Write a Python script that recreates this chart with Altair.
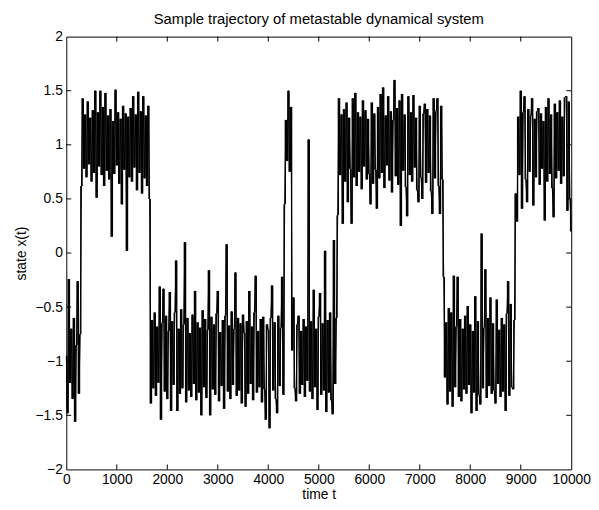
import altair as alt
import pandas as pd

# ---- data (time grid of 25 steps per sample) ----
step = 25
seg_starts = [0, 300, 1675, 4325, 4475, 5375, 7475, 8900]

segA = [-0.95, -1.48, -0.24, -1.20, -0.70, -1.35, -0.60, -1.56, -0.85, -0.26, -1.30, -0.75]

segB = [0.62, 1.43, 0.78, 1.28, 0.70, 1.40, 0.82, 1.25, 0.66, 1.32,
        0.74, 1.50, 0.51, 1.30, 0.80, 1.50, 0.72, 1.35, 0.62, 1.48,
        0.76, 1.27, 0.68, 1.33, 0.15, 1.22, 0.73, 1.51, 0.81, 1.30,
        0.64, 1.24, 0.45, 1.36, 0.77, 1.29, 0.02, 1.26, 0.70, 1.34,
        0.66, 1.45, 0.79, 1.28, 0.58, 1.49, 0.74, 1.31, 0.55, 1.45,
        0.69, 1.27, 0.62, 1.36, 0.50]

segC = [-1.39, -0.62, -1.25, -0.55, -1.32, -0.68, -1.20, -0.31, -1.54, -0.65,
        -0.33, -1.28, -0.58, -1.35, -0.72, -0.36, -1.46, -0.63, -1.22, -0.55,
        -0.07, -1.46, -0.70, -1.30, -0.52, -1.25, -0.66, 0.10, -1.38, -0.60,
        -1.27, -0.74, -1.33, -0.57, -1.21, -0.35, -1.36, -0.64, -1.29, -0.69,
        -1.50, -0.53, -1.24, -0.61, -1.34, -0.71, -0.16, -1.50, -0.59, -1.26,
        -0.66, -1.31, -0.56, -0.35, -1.37, -0.73, -1.23, -0.62, -1.44, -0.58,
        0.08, -1.28, -0.67, -1.35, -0.54, -1.22, -0.70, -0.18, -1.32, -0.60,
        -1.27, -0.65, -1.39, -0.57, -0.74, -1.42, -0.63, -1.30, -0.35, -1.21,
        -0.68, -1.36, -0.55, -0.21, -1.29, -0.72, -1.24, -0.61, -1.38, -0.59,
        -1.26, -1.54, -0.66, -0.71, -1.62, -0.60, -0.30, -1.27, -0.64, -1.35,
        -1.48, -0.58, -1.23, -0.69, -0.22, -1.31]

segD = [0.45, 1.23, 0.85, 1.50, 0.75, 1.35]

segE = [-0.90, -0.41, -1.25, -1.37, -0.66, -0.58, -1.30, -0.72, -1.22, -0.61,
        -1.33, -0.68, -1.18, 1.05, -1.28, -0.63, -1.35, -0.34, -1.24, -0.70,
        -1.45, -0.59, -0.37, -1.31, -0.65, -1.27, 0.02, -1.47, -0.62, -1.29,
        -0.55, -1.36, -1.49, 0.12, -1.21, -0.60]

segF = [0.35, 1.43, 0.72, 1.28, 0.27, 1.33, 0.66, 1.39, 0.47, 1.25,
        0.78, 0.27, 1.43, 0.70, 1.48, 0.62, 1.30, 0.75, 1.26, 0.59,
        1.41, 0.80, 1.32, 0.68, 1.24, 0.73, 0.45, 1.39, 0.64, 1.29,
        0.77, 0.41, 1.35, 0.69, 1.47, 0.74, 1.53, 0.60, 1.27, 0.81,
        1.45, 0.67, 1.31, 0.56, 1.23, 1.60, 0.71, 1.34, 0.63, 1.41,
        0.25, 1.47, 0.76, 1.28, 0.61, 0.34, 1.45, 0.72, 1.30, 0.66,
        1.46, 0.79, 1.25, 0.58, 0.47, 1.36, 0.70, 0.50, 1.29, 1.38,
        0.65, 1.33, 0.74, 1.27, 0.57, 0.36, 1.43, 0.69, 1.31, 1.43,
        0.62, 0.36, 1.36, 0.68]

segG = [-0.22, -1.15, -0.64, -1.40, -0.51, -1.28, -0.55, -1.42, -0.21, -1.24,
        -0.68, -0.22, -1.33, -0.61, -1.37, -0.70, -1.26, -0.58, -1.30, -0.49,
        -1.22, -0.66, -1.48, -0.72, -1.29, -0.40, -1.46, -0.63, -1.31, -1.40,
        0.18, -1.25, -0.69, -0.15, -1.34, -0.60, -1.23, -0.41, -1.30, -0.65,
        -1.27, -1.39, -0.43, -1.21, -0.71, -1.33, -0.60, -1.28, -0.66, -1.46,
        -0.56, -0.26, -1.32, -0.47, -1.24, -1.26, -0.62]

segH = [0.55, 0.29, 1.26, 0.72, 1.50, 0.41, 1.30, 1.45, 0.68, 0.47,
        1.33, 0.75, 1.27, 1.43, 0.44, 1.24, 0.70, 1.31, 1.34, 0.63,
        1.29, 0.78, 1.22, 0.30, 1.35, 0.66, 1.43, 0.73, 1.28, 0.60,
        0.33, 1.38, 0.69, 1.30, 0.76, 1.41, 0.64, 1.26, 0.71, 1.44,
        1.45, 0.39, 1.40, 0.50, 0.20]

x_tick_values = [0, 1000, 2000, 3000, 4000, 5000, 6000, 7000, 8000, 9000, 10000]
y_tick_values = [-2, -1.5, -1, -0.5, 0, 0.5, 1, 1.5, 2]
inner_x_ticks = [1000, 2000, 3000, 4000, 5000, 6000, 7000, 8000, 9000]
inner_y_ticks = [-1.5, -1, -0.5, 0, 0.5, 1, 1.5]

segments = [segA, segB, segC, segD, segE, segF, segG, segH]
rows = []
for start, vals in zip(seg_starts, segments):
    for k, v in enumerate(vals):
        rows.append({"t": start + step * k, "x": v})
df = pd.DataFrame(rows).sort_values("t").reset_index(drop=True)

# per-interval table: each sample interval is drawn as a filled column
# spanning the two sample values (what a dense line looks like on screen)
iv = pd.DataFrame({
    "t": (df["t"] + step / 2).iloc[:-1],
    "x": df["x"].iloc[:-1],
    "x_next": df["x"].shift(-1).iloc[:-1],
})

W, H = 511, 438
FONT = "Liberation Sans"
TICK = 5

xscale = alt.Scale(domain=[0, 10000], nice=False, zero=False)
yscale = alt.Scale(domain=[-2, 2], nice=False, zero=False)

x_axis = alt.Axis(values=x_tick_values, format="d", title="time t",
                  ticks=False, domain=False, grid=False,
                  labelPadding=3, labelFontSize=14, labelFont=FONT,
                  labelColor="black", labelFlush=False, labelOverlap=False,
                  titleFontSize=14, titleFont=FONT, titleFontWeight="normal",
                  titleColor="black", titleBaseline="alphabetic",
                  titleY=29.5, titleX=W / 2)
y_axis = alt.Axis(values=y_tick_values, format="~g", title="state x(t)",
                  ticks=False, domain=False, grid=False,
                  labelPadding=4, labelFontSize=14, labelFont=FONT,
                  labelColor="black", labelFlush=False, labelOverlap=False,
                  titleFontSize=14, titleFont=FONT, titleFontWeight="normal",
                  titleColor="black", titleAngle=270, titleAlign="center",
                  titleBaseline="middle", titleX=-45, titleY=H / 2)

line = alt.Chart(df).mark_line(color="black", strokeWidth=1).encode(
    x=alt.X("t:Q", scale=xscale, axis=x_axis),
    y=alt.Y("x:Q", scale=yscale, axis=y_axis),
)

columns = alt.Chart(iv).mark_rule(color="black", strokeWidth=1.35, strokeCap="butt").encode(
    x=alt.X("t:Q", scale=xscale, axis=x_axis),
    y=alt.Y("x:Q", scale=yscale, axis=y_axis),
    y2="x_next:Q",
)

xt_df = pd.DataFrame({"t": inner_x_ticks})
yt_df = pd.DataFrame({"x": inner_y_ticks})

bottom_ticks = alt.Chart(xt_df).mark_rule(color="black", strokeWidth=1).encode(
    x=alt.X("t:Q", scale=xscale, axis=x_axis), y=alt.value(H), y2=alt.value(H - TICK))
top_ticks = alt.Chart(xt_df).mark_rule(color="black", strokeWidth=1).encode(
    x=alt.X("t:Q", scale=xscale, axis=x_axis), y=alt.value(0), y2=alt.value(TICK))
left_ticks = alt.Chart(yt_df).mark_rule(color="black", strokeWidth=1).encode(
    y=alt.Y("x:Q", scale=yscale, axis=y_axis), x=alt.value(0), x2=alt.value(TICK))
right_ticks = alt.Chart(yt_df).mark_rule(color="black", strokeWidth=1).encode(
    y=alt.Y("x:Q", scale=yscale, axis=y_axis), x=alt.value(W), x2=alt.value(W - TICK))

chart = alt.layer(line, columns, bottom_ticks, top_ticks, left_ticks, right_ticks).properties(
    width=W, height=H,
    title=alt.TitleParams("Sample trajectory of metastable dynamical system",
                          fontSize=15, font=FONT, fontWeight="normal", color="black",
                          baseline="alphabetic", offset=11, dy=20, anchor="middle",
                          frame="group"),
    autosize=alt.AutoSizeParams(type="none"),
    padding={"left": 59, "top": 26, "right": 20, "bottom": 30},
).configure(background="white").configure_view(stroke="black", strokeWidth=1)

chart.save("out.html", embed_options={"renderer": "svg", "actions": False})
